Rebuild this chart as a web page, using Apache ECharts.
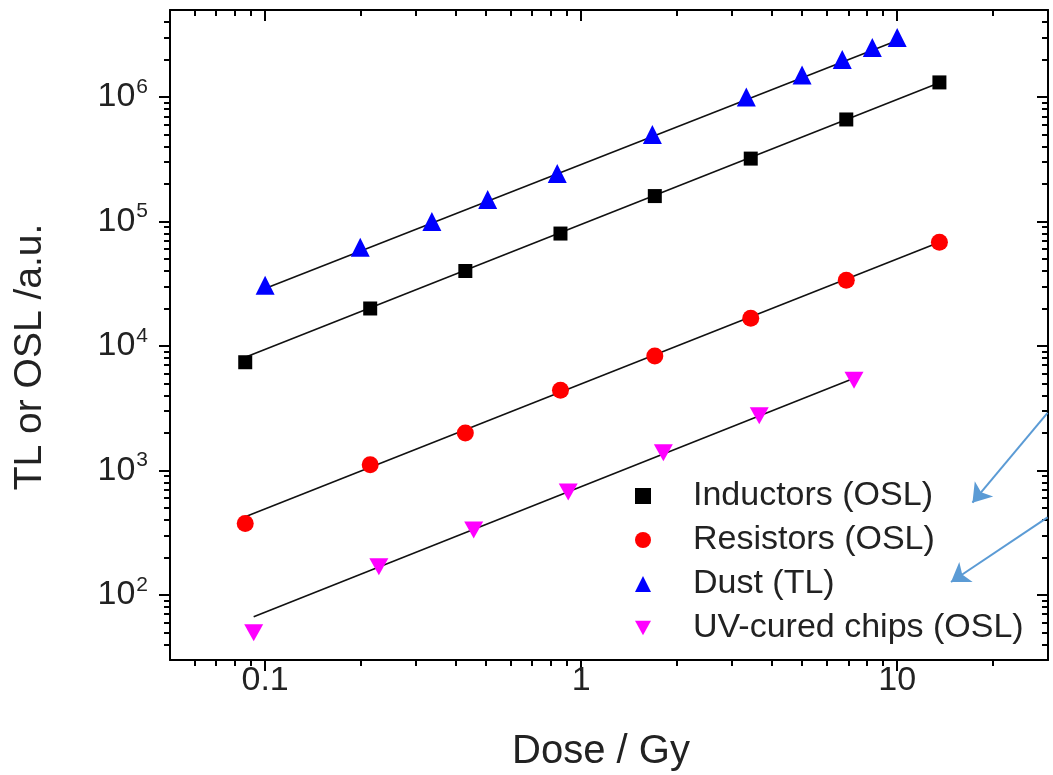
<!DOCTYPE html>
<html>
<head>
<meta charset="utf-8">
<script src="https://cdn.jsdelivr.net/npm/echarts@6/dist/echarts.min.js"></script>
<style>
  html, body { margin: 0; padding: 0; background: #fff; }
  #chart { width: 1053px; height: 775px; }
</style>
</head>
<body>
<div id="chart"></div>
<script>
// 数据：剂量 (Gy) 与信号强度
const inductorsX = [0.0865, 0.215, 0.43, 0.86, 1.71, 3.44, 6.9, 13.6]
const inductorsY = [7.4e3, 2.0e4, 4.0e4, 8.0e4, 1.6e5, 3.2e5, 6.6e5, 1.31e6]
const resistorsX = [0.0865, 0.215, 0.43, 0.86, 1.71, 3.44, 6.9, 13.6]
const resistorsY = [374, 1.11e3, 2.0e3, 4.4e3, 8.3e3, 1.67e4, 3.37e4, 6.8e4]
const dustX = [0.1, 0.2, 0.337, 0.506, 0.84, 1.68, 3.33, 5.0, 6.7, 8.34, 10]
const dustY = [3.07e4, 6.2e4, 1.0e5, 1.5e5, 2.43e5, 5.0e5, 1.0e6, 1.5e6, 2.0e6, 2.5e6, 3.0e6]
const chipsX = [0.092, 0.229, 0.457, 0.91, 1.82, 3.66, 7.3]
const chipsY = [49.6, 168, 332, 670, 1.39e3, 2.75e3, 5.3e3]

// 拟合直线（两端点）
const inductorsFit = [[0.0865, 8.1e3], [13.6, 1.3e6]]
const resistorsFit = [[0.0865, 425], [13.6, 6.8e4]]
const dustFit = [[0.1, 2.9e4], [10, 2.85e6]]
const chipsFit = [[0.092, 66.7], [7.3, 5.5e3]]

// 标注箭头（起点 -> 终点）
const arrow1 = [[29.9, 2900], [17.3, 551]]
const arrow2 = [[29.9, 420], [14.8, 127]]

// 刻度
const xMajor = [0.1, 1, 10]
const xMajorLabels = ['0.1', '1', '10']
const xMinor = [0.06, 0.07, 0.08, 0.09, 0.2, 0.3, 0.4, 0.5, 0.6, 0.7, 0.8, 0.9,
  2, 3, 4, 5, 6, 7, 8, 9, 20]
const yMajor = [1e2, 1e3, 1e4, 1e5, 1e6]
const yMajorExp = ['2', '3', '4', '5', '6']
const yMinor = [40, 50, 60, 70, 80, 90,
  200, 300, 400, 500, 600, 700, 800, 900,
  2e3, 3e3, 4e3, 5e3, 6e3, 7e3, 8e3, 9e3,
  2e4, 3e4, 4e4, 5e4, 6e4, 7e4, 8e4, 9e4,
  2e5, 3e5, 4e5, 5e5, 6e5, 7e5, 8e5, 9e5,
  2e6, 3e6, 4e6]

const X_MIN = 0.05, X_MAX = 30
const Y_MIN = 30, Y_MAX = 5e6
const FONT = '"Liberation Sans", Arial, sans-serif'
const TEXT = '#222'

const zip = (xs, ys) => xs.map((x, i) => [x, ys[i]])

const chart = echarts.init(document.getElementById('chart'))

const baseAxis = (min, max) => ({
  type: 'log',
  logBase: 10,
  min, max,
  splitLine: {show: false},
  axisLine: {show: false, onZero: false},
  axisLabel: {show: false},
  axisTick: {show: false},
  axisPointer: {show: false}
})

const tickStyle = {color: '#000', width: 2}

const xAxes = [
  // 下方主刻度与标签
  Object.assign(baseAxis(X_MIN, X_MAX), {
    position: 'bottom',
    axisLine: {show: true, onZero: false, lineStyle: tickStyle},
    axisTick: {show: true, customValues: xMajor, length: 11, lineStyle: tickStyle},
    axisLabel: {
      show: true, customValues: xMajor, margin: 4,
      fontFamily: FONT, fontSize: 34, color: TEXT,
      formatter: v => xMajorLabels[xMajor.findIndex(m => Math.abs(m - v) / m < 1e-6)] || ''
    },
    name: 'Dose / Gy',
    nameLocation: 'middle',
    nameGap: 72,
    nameTextStyle: {fontFamily: FONT, fontSize: 40, color: TEXT, padding: [0, 16, 0, 0]}
  }),
  // 下方次刻度
  Object.assign(baseAxis(X_MIN, X_MAX), {
    position: 'bottom',
    axisTick: {show: true, customValues: xMinor, length: 6, lineStyle: tickStyle}
  }),
  // 上方框线
  Object.assign(baseAxis(X_MIN, X_MAX), {
    position: 'top',
    axisLine: {show: true, onZero: false, lineStyle: tickStyle},
    axisTick: {show: true, inside: true, customValues: xMajor, length: 11, lineStyle: tickStyle}
  }),
  Object.assign(baseAxis(X_MIN, X_MAX), {
    position: 'top',
    axisTick: {show: true, inside: true, customValues: xMinor, length: 6, lineStyle: tickStyle}
  })
]

const yAxes = [
  Object.assign(baseAxis(Y_MIN, Y_MAX), {
    position: 'left',
    axisLine: {show: true, onZero: false, lineStyle: tickStyle},
    axisTick: {show: true, customValues: yMajor, length: 11, lineStyle: tickStyle},
    axisLabel: {
      show: true, customValues: yMajor, margin: 22,
      color: TEXT,
      formatter: v => {
        const i = yMajor.findIndex(m => Math.abs(m - v) / m < 1e-6)
        return i < 0 ? '' : '{b|10}{s|' + yMajorExp[i] + '}'
      },
      rich: {
        b: {fontFamily: FONT, fontSize: 34, color: TEXT},
        s: {fontFamily: FONT, fontSize: 21, color: TEXT, padding: [0, 0, 20, 1]}
      }
    },
    name: 'TL or OSL /a.u.',
    nameLocation: 'middle',
    nameGap: 120,
    nameTextStyle: {fontFamily: FONT, fontSize: 39, color: TEXT, padding: [0, 44, 0, 0]}
  }),
  Object.assign(baseAxis(Y_MIN, Y_MAX), {
    position: 'left',
    axisTick: {show: true, customValues: yMinor, length: 6, lineStyle: tickStyle}
  }),
  Object.assign(baseAxis(Y_MIN, Y_MAX), {
    position: 'right',
    axisLine: {show: true, onZero: false, lineStyle: tickStyle},
    axisTick: {show: true, inside: true, customValues: yMajor, length: 11, lineStyle: tickStyle}
  }),
  Object.assign(baseAxis(Y_MIN, Y_MAX), {
    position: 'right',
    axisTick: {show: true, inside: true, customValues: yMinor, length: 6, lineStyle: tickStyle}
  })
]

const fitLine = data => ({
  type: 'line',
  data,
  symbol: 'none',
  silent: true,
  lineStyle: {color: '#111', width: 1.6, opacity: 1},
  z: 1
})

const downTriangle = 'path://M0,0L10,0L5,9Z'

const option = {
  animation: false,
  backgroundColor: '#fff',
  grid: {left: 170, right: 5, top: 10, bottom: 115, containLabel: false, outerBoundsMode: 'none'},
  xAxis: xAxes,
  yAxis: yAxes,
  legend: {
    data: ['Inductors (OSL)', 'Resistors (OSL)', 'Dust (TL)', 'UV-cured chips (OSL)'],
    orient: 'vertical',
    left: 630,
    top: 473,
    padding: 5,
    itemWidth: 16,
    itemHeight: 16,
    itemGap: 8,
    selectedMode: false,
    textStyle: {
      fontFamily: FONT, fontSize: 34, color: TEXT,
      lineHeight: 36, padding: [0, 0, 0, 37]
    }
  },
  series: [
    fitLine(inductorsFit),
    fitLine(resistorsFit),
    fitLine(dustFit),
    Object.assign(fitLine(chipsFit), {
      markLine: {
        silent: true,
        symbol: ['none', 'arrow'],
        symbolSize: 18,
        label: {show: false},
        lineStyle: {color: '#5b9bd5', width: 2, type: 'solid', opacity: 1},
        data: [
          [{coord: arrow1[0]}, {coord: arrow1[1]}],
          [{coord: arrow2[0]}, {coord: arrow2[1]}]
        ]
      }
    }),
    {
      name: 'Inductors (OSL)', type: 'scatter', symbol: 'rect', symbolSize: 14,
      itemStyle: {color: '#000', opacity: 1}, data: zip(inductorsX, inductorsY), z: 3
    },
    {
      name: 'Resistors (OSL)', type: 'scatter', symbol: 'circle', symbolSize: 17,
      itemStyle: {color: '#ff0000', opacity: 1}, data: zip(resistorsX, resistorsY), z: 3
    },
    {
      name: 'Dust (TL)', type: 'scatter', symbol: 'triangle', symbolSize: 19,
      itemStyle: {color: '#0000ff', opacity: 1}, data: zip(dustX, dustY), z: 3
    },
    {
      name: 'UV-cured chips (OSL)', type: 'scatter', symbol: downTriangle, symbolSize: [19, 17],
      itemStyle: {color: '#ff00ff', opacity: 1}, data: zip(chipsX, chipsY), z: 3
    }
  ]
}

chart.setOption(option)
</script>
</body>
</html>
